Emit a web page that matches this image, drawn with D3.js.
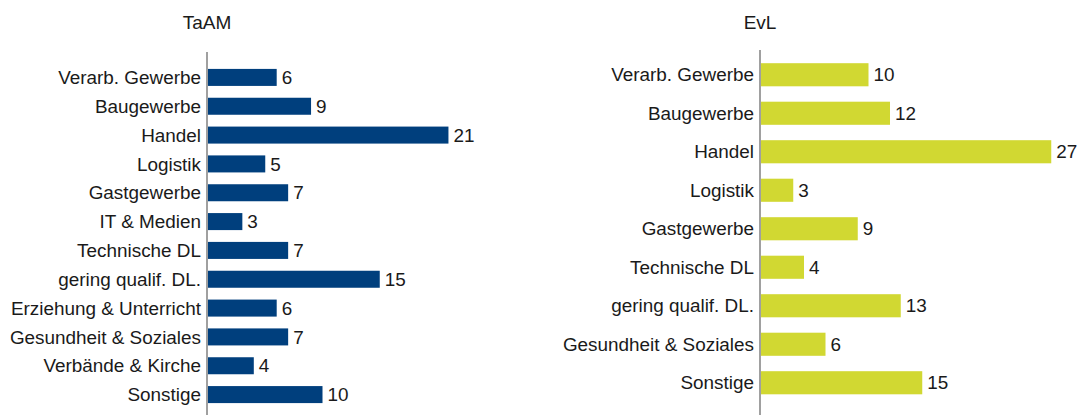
<!DOCTYPE html>
<html lang="de">
<head>
    <meta charset="UTF-8">
    <title>TaAM / EvL nach Branchen</title>
    <script src="https://d3js.org/d3.v7.min.js"></script>
    <style>
        body {
            margin: 0;
            background: #fff;
            font-family: 'Liberation Sans', Arial, sans-serif;
        }
        .title { font-size: 19px; fill: #1a1a1a; }
        .cat { font-size: 18.9px; fill: #1a1a1a; }
        .val { font-size: 18.9px; fill: #1a1a1a; }
    </style>
</head>
<body>
    <svg id="chart" width="1078" height="415"></svg>
    <script>
        // TaAM
        const taamCategories = ["Verarb. Gewerbe", "Baugewerbe", "Handel", "Logistik", "Gastgewerbe", "IT & Medien",
            "Technische DL", "gering qualif. DL.", "Erziehung & Unterricht", "Gesundheit & Soziales",
            "Verbände & Kirche", "Sonstige"];
        const taamValues = [6, 9, 21, 5, 7, 3, 7, 15, 6, 7, 4, 10];

        // EvL
        const evlCategories = ["Verarb. Gewerbe", "Baugewerbe", "Handel", "Logistik", "Gastgewerbe",
            "Technische DL", "gering qualif. DL.", "Gesundheit & Soziales", "Sonstige"];
        const evlValues = [10, 12, 27, 3, 9, 4, 13, 6, 15];

        const svg = d3.select("#chart");

        function drawPanel(opts) {
            const g = svg.append("g");

            const x = d3.scaleLinear().domain([0, opts.max]).range([opts.axisX, opts.axisX + opts.max * opts.pxPerUnit]);
            const y = d3.scaleBand().domain(opts.categories).range(opts.yRange).paddingInner(opts.padding).paddingOuter(opts.padding / 2);

            g.append("text")
                .attr("class", "title")
                .attr("x", opts.axisX)
                .attr("y", 29)
                .attr("text-anchor", "middle")
                .text(opts.title);

            const rows = g.selectAll(".row")
                .data(opts.categories.map((c, i) => ({ cat: c, val: opts.values[i] })))
                .enter().append("g");

            rows.append("rect")
                .attr("x", x(0) + 1)
                .attr("y", d => y(d.cat))
                .attr("width", d => x(d.val) - x(0))
                .attr("height", y.bandwidth())
                .attr("fill", opts.color);

            rows.append("text")
                .attr("class", "cat")
                .attr("x", opts.axisX - 6)
                .attr("y", d => y(d.cat) + y.bandwidth() / 2)
                .attr("dy", "0.35em")
                .attr("text-anchor", "end")
                .text(d => d.cat);

            rows.append("text")
                .attr("class", "val")
                .attr("x", d => x(d.val) + 6)
                .attr("y", d => y(d.cat) + y.bandwidth() / 2)
                .attr("dy", "0.35em")
                .text(d => d.val);

            g.append("line")
                .attr("x1", opts.axisX).attr("x2", opts.axisX)
                .attr("y1", opts.axisTop).attr("y2", 415)
                .attr("stroke", "#808080")
                .attr("stroke-width", 1.5);
        }

        drawPanel({
            title: "TaAM", categories: taamCategories, values: taamValues,
            axisX: 207, axisTop: 52, max: 21, pxPerUnit: 11.45,
            yRange: [63, 409], padding: 0.41, color: "#003f7d"
        });

        drawPanel({
            title: "EvL", categories: evlCategories, values: evlValues,
            axisX: 760, axisTop: 50, max: 27, pxPerUnit: 10.75,
            yRange: [55.5, 402], padding: 0.4, color: "#d1d832"
        });
    </script>
</body>
</html>
